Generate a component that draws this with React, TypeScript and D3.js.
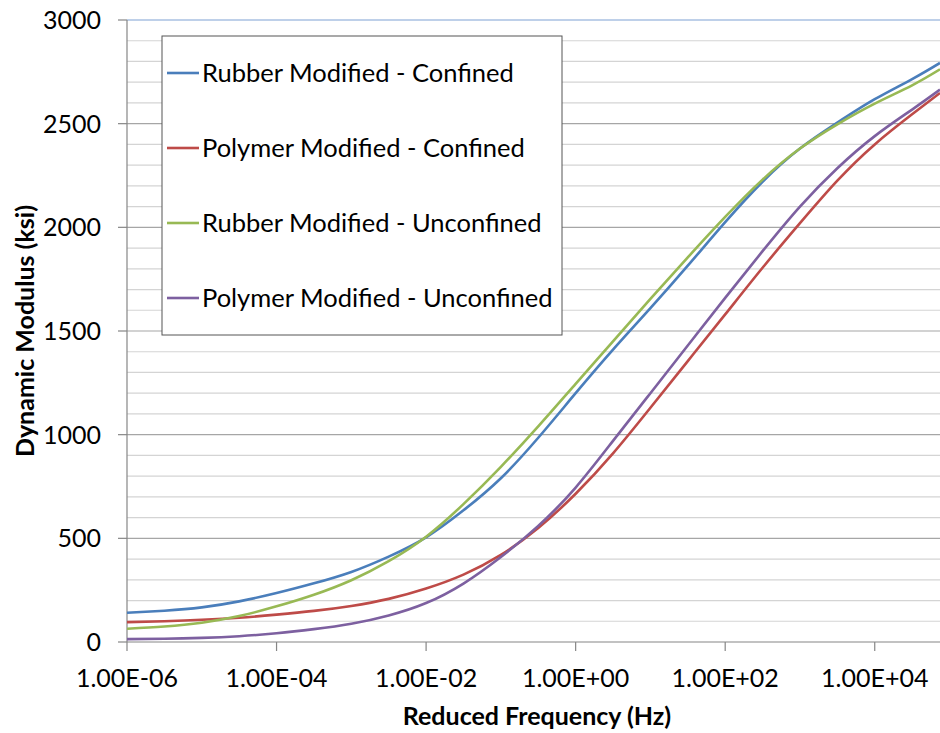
import * as d3 from "d3"

// reduced frequency (Hz), half-decade steps
const freqs = [
  1e-6, 3.16e-6, 1e-5, 3.16e-5, 1e-4, 3.16e-4, 1e-3, 3.16e-3, 1e-2, 3.16e-2, 1e-1, 3.16e-1,
  1, 3.16, 10, 31.6, 100, 316, 1000, 3160, 10000, 31600, 74600,
]

const rubberConfined = [
  141, 151, 167, 196, 236, 283, 338, 412, 505, 635, 790, 985, 1200, 1410, 1610, 1815, 2025, 2220,
  2380, 2505, 2618, 2715, 2793,
]
const polymerConfined = [
  96, 100, 107, 117, 132, 150, 174, 208, 258, 325, 420, 550, 715, 910, 1130, 1355, 1580, 1805,
  2020, 2225, 2400, 2545, 2648,
]
const rubberUnconfined = [
  64, 75, 93, 125, 172, 228, 298, 390, 508, 665, 845, 1040, 1245, 1450, 1655, 1855, 2050, 2230,
  2380, 2497, 2597, 2685, 2762,
]
const polymerUnconfined = [
  14, 16, 20, 28, 42, 62, 88, 128, 188, 282, 410, 560, 745, 970, 1200, 1430, 1660, 1885, 2100,
  2285, 2440, 2568, 2664,
]

const seriesNames = [
  "Rubber Modified - Confined",
  "Polymer Modified - Confined",
  "Rubber Modified - Unconfined",
  "Polymer Modified - Unconfined",
]
const seriesColors = ["#4a7ebb", "#be4b48", "#98b954", "#7d60a0"]
const seriesValues = [rubberConfined, polymerConfined, rubberUnconfined, polymerUnconfined]

const xTicks = [1e-6, 1e-4, 1e-2, 1, 1e2, 1e4]
const xTickLabels = ["1.00E-06", "1.00E-04", "1.00E-02", "1.00E+00", "1.00E+02", "1.00E+04"]
const yMajor = [0, 500, 1000, 1500, 2000, 2500, 3000]

const FONT = "Lato, 'Open Sans', sans-serif"

export default function App() {
  const W = 940
  const H = 733
  const left = 127
  const right = 940
  const top = 20
  const bottom = 642

  const x = d3.scaleLog().domain([1e-6, 74600]).range([left, right])
  const y = d3.scaleLinear().domain([0, 3000]).range([bottom, top])

  const line = d3
    .line<number>()
    .x((_, i) => x(freqs[i]))
    .y((d) => y(d))
    .curve(d3.curveNatural)

  const minor = d3.range(100, 3000, 100).filter((v) => v % 500 !== 0)

  return (
    <div style={{ position: "absolute", left: 0, top: 0 }}>
      <svg width={W} height={H} style={{ display: "block", background: "#fff" }}>
        {/* grid */}
        {minor.map((v) => (
          <line key={v} x1={left} x2={right} y1={y(v)} y2={y(v)} stroke="#d4d4d4" strokeWidth={1.2} />
        ))}
        {yMajor.slice(1, -1).map((v) => (
          <line key={v} x1={left} x2={right} y1={y(v)} y2={y(v)} stroke="#a6a6a6" strokeWidth={1.2} />
        ))}
        <line x1={left} x2={right} y1={y(3000)} y2={y(3000)} stroke="#7fa2d4" strokeWidth={1.2} />

        {/* axes */}
        <line x1={left} x2={left} y1={top} y2={bottom} stroke="#868686" strokeWidth={1.2} />
        <line x1={left} x2={right} y1={bottom} y2={bottom} stroke="#868686" strokeWidth={1.2} />
        {yMajor.map((v) => (
          <g key={v}>
            <line x1={left - 9} x2={left} y1={y(v)} y2={y(v)} stroke="#868686" strokeWidth={1.2} />
            <text
              x={101}
              y={y(v)}
              dy="0.36em"
              textAnchor="end"
              fontFamily={FONT}
              fontSize={25}
              fill="#000"
            >
              {v}
            </text>
          </g>
        ))}
        {xTicks.map((t, i) => (
          <g key={t}>
            <line x1={x(t)} x2={x(t)} y1={bottom} y2={bottom + 9} stroke="#868686" strokeWidth={1.2} />
            <text x={x(t)} y={687} textAnchor="middle" fontFamily={FONT} fontSize={25} fill="#000">
              {xTickLabels[i]}
            </text>
          </g>
        ))}

        {/* series */}
        {seriesValues.map((vals, i) => (
          <path key={i} d={line(vals) ?? ""} fill="none" stroke={seriesColors[i]} strokeWidth={2.6} />
        ))}

        {/* legend */}
        <rect x={162} y={36} width={400} height={299} fill="#fff" stroke="#555" strokeWidth={1} />
        {seriesNames.map((name, i) => {
          const ly = 73 + i * 75
          return (
            <g key={name}>
              <line x1={167} x2={199} y1={ly} y2={ly} stroke={seriesColors[i]} strokeWidth={2.6} />
              <text x={202} y={ly} dy="0.36em" fontFamily={FONT} fontSize={25.5} fill="#000">
                {name}
              </text>
            </g>
          )
        })}

        {/* axis titles */}
        <text
          x={537}
          y={725}
          textAnchor="middle"
          fontFamily={FONT}
          fontWeight="bold"
          fontSize={25}
          fill="#000"
        >
          Reduced Frequency (Hz)
        </text>
        <text
          transform={`translate(34,${331}) rotate(-90)`}
          textAnchor="middle"
          fontFamily={FONT}
          fontWeight="bold"
          fontSize={25}
          fill="#000"
        >
          Dynamic Modulus (ksi)
        </text>
      </svg>
    </div>
  )
}
